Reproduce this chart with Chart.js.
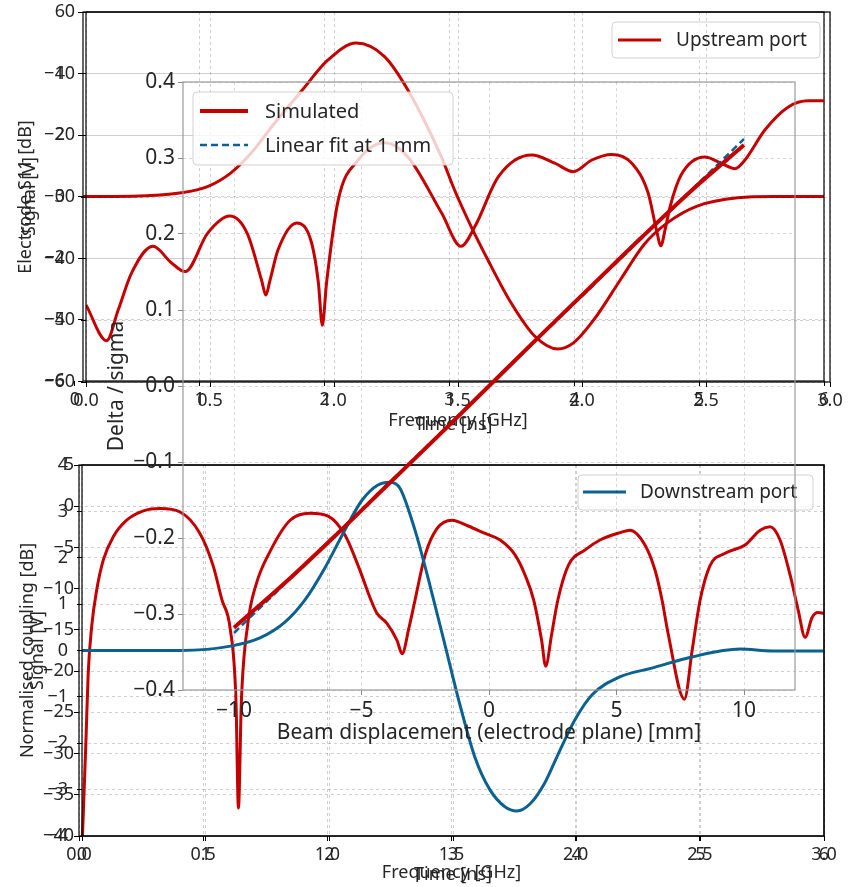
<!DOCTYPE html>
<html>
<head>
<meta charset="utf-8">
<script src="https://cdn.jsdelivr.net/npm/chart.js@4.4.1/dist/chart.umd.min.js"></script>
<style>
  html, body { margin: 0; padding: 0; background: #fff; }
  #wrap { position: relative; width: 851px; height: 887px; overflow: hidden; }
  #wrap canvas { position: absolute; left: 0; top: 0; }
</style>
</head>
<body>
<div id="wrap">
  <canvas id="topSig" width="851" height="887"></canvas>
  <canvas id="topDb" width="851" height="887"></canvas>
  <canvas id="botDb" width="851" height="887"></canvas>
  <canvas id="botSig" width="851" height="887"></canvas>
  <canvas id="inset" width="851" height="887"></canvas>
</div>
<script>
// =====================================
// DATA
// =====================================

// top panel: electrode response vs frequency
const topFreq = [0, 0.083, 0.13, 0.184, 0.27, 0.345, 0.40, 0.49, 0.58, 0.65, 0.708, 0.725, 0.742, 0.774, 0.85, 0.91, 0.937, 0.953, 0.97, 1.017, 1.098, 1.206, 1.298, 1.434, 1.512, 1.568, 1.663, 1.797, 1.89, 1.965, 2.04, 2.12, 2.2, 2.267, 2.30, 2.318, 2.335, 2.355, 2.40, 2.496, 2.56, 2.617, 2.657, 2.738, 2.832, 2.913, 2.977];
const topDbVals = [-47.5, -53.3, -48.3, -42.3, -38.0, -40.7, -42.1, -35.9, -33.1, -35.9, -43.5, -45.9, -43.5, -38.6, -34.2, -37.5, -43.9, -50.8, -43.9, -30.5, -24.0, -21.2, -23.5, -32.6, -38.0, -34.8, -26.7, -23.2, -24.5, -25.9, -24.0, -23.1, -24.5, -29.4, -35.3, -37.9, -35.3, -31.6, -26.4, -23.5, -24.5, -25.4, -24.0, -19.1, -15.4, -14.4, -14.4];

// top panel: upstream port signal vs time
const topTime = [0, 0.459, 0.854, 1.067, 1.250, 1.414, 1.600, 1.813, 2.027, 2.253, 2.480, 2.666, 2.933, 3.040, 3.173, 3.305, 3.492, 3.680, 3.868, 3.996, 4.160, 4.372, 4.559, 4.747, 4.984, 5.310, 5.597, 6.0];
const topSignal = [0, 0.01, 0.12, 0.33, 0.77, 1.42, 2.39, 3.42, 4.44, 4.99, 4.55, 3.47, 1.31, 0.22, -0.97, -2.04, -3.45, -4.53, -4.96, -4.75, -3.99, -2.69, -1.56, -0.85, -0.31, -0.04, 0, 0];

// bottom panel: normalised coupling vs frequency
const botFreq = [0.014, 0.028, 0.037, 0.051, 0.071, 0.098, 0.138, 0.192, 0.259, 0.326, 0.407, 0.487, 0.540, 0.576, 0.608, 0.632, 0.642, 0.654, 0.681, 0.713, 0.769, 0.850, 0.930, 1.003, 1.071, 1.124, 1.176, 1.200, 1.240, 1.281, 1.301, 1.329, 1.353, 1.394, 1.442, 1.502, 1.567, 1.635, 1.696, 1.756, 1.797, 1.831, 1.863, 1.879, 1.904, 1.928, 1.970, 2.038, 2.098, 2.179, 2.219, 2.279, 2.320, 2.348, 2.372, 2.438, 2.469, 2.501, 2.541, 2.602, 2.682, 2.743, 2.783, 2.823, 2.864, 2.896, 2.924, 2.952, 2.976, 3.0];
const botDbVals = [-40, -28.4, -20.3, -14.6, -10.2, -6.5, -3.7, -1.7, -0.57, -0.28, -0.7, -3.3, -7.2, -11.4, -14.7, -23.5, -36.6, -23.5, -14.0, -9.5, -5.5, -1.7, -0.85, -1.2, -3.5, -7.2, -11.4, -13.0, -14.2, -16.3, -17.9, -14.7, -11.4, -5.9, -2.7, -1.7, -2.4, -3.3, -4.1, -5.9, -8.4, -11.4, -16.3, -19.4, -15.4, -11.4, -7.2, -5.3, -4.1, -3.2, -2.9, -4.7, -7.8, -11.4, -15.4, -23.4, -17.5, -11.4, -7.2, -5.7, -4.7, -2.9, -2.5, -4.1, -8.4, -12.6, -15.9, -13.5, -12.9, -13.0];

// bottom panel: downstream port signal vs time
const botTime = [0, 0.8, 1.213, 1.439, 1.641, 1.803, 1.964, 2.126, 2.264, 2.393, 2.49, 2.571, 2.692, 2.813, 2.935, 3.056, 3.177, 3.298, 3.42, 3.517, 3.622, 3.743, 3.848, 3.985, 4.123, 4.349, 4.608, 4.931, 5.323, 5.583, 6.0];
const botSignal = [0, 0, 0.1, 0.27, 0.61, 1.09, 1.78, 2.6, 3.24, 3.57, 3.63, 3.5, 2.6, 1.41, 0.12, -1.17, -2.3, -3.0, -3.37, -3.46, -3.31, -2.85, -2.25, -1.5, -0.96, -0.57, -0.38, -0.14, 0.03, -0.01, -0.01];

// inset: delta / sigma vs beam displacement
const dispMm = [-10, -8, -6, -4, -2, 0, 2, 4, 6, 8, 10];
const simDelta = [-0.318, -0.259, -0.196, -0.131, -0.066, 0, 0.066, 0.131, 0.196, 0.259, 0.317];
const fitMm = [-10, 10];
const fitDelta = [-0.325, 0.325];

// tick labels
const freqTicks = [0, 0.5, 1.0, 1.5, 2.0, 2.5, 3.0];
const timeTicks = [0, 1, 2, 3, 4, 5, 6];
const topDbTicks = [0, -10, -20, -30, -40, -50, -60];
const topSigTicks = [6, 4, 2, 0, -2, -4, -6];
const botDbTicks = [5, 0, -5, -10, -15, -20, -25, -30, -35, -40];
const botSigTicks = [4, 3, 2, 1, 0, -1, -2, -3, -4];
const dispTicks = [-10, -5, 0, 5, 10];
const deltaTicks = [0.4, 0.3, 0.2, 0.1, 0.0, -0.1, -0.2, -0.3, -0.4];

// =====================================
// STYLE HELPERS
// =====================================

const FONT = "'Noto Sans', 'Open Sans', sans-serif";
const RED = '#c40000';
const BLUE = '#0b6190';
const TEXT = '#262626';

const minus = (s) => String(s).replace('-', '\u2212');
const fix1 = (v) => Number(v).toFixed(1);
const int = (v) => String(Math.round(v));

const pts = (xs, ys) => xs.map((x, i) => ({ x, y: ys[i] }));

const axis = (o) => {
	const inRange = (ctx) => ctx.tick && ctx.tick.value >= o.min - 1e-9 && ctx.tick.value <= o.max + 1e-9;
	const gridColor = o.gridColor || 'rgba(0,0,0,0.24)';
	return {
		type: 'linear',
		position: o.position,
		min: o.min,
		max: o.max,
		afterBuildTicks: (s) => {
			s.ticks = o.ticks.map((v) => ({ value: v }));
		},
		afterFit: (s) => {
			if (o.position === 'left') s.width = o.size;
			else s.height = o.size;
			// keep the plot area exactly where the layout padding puts it
			s.paddingTop = 0;
			s.paddingBottom = 0;
			s.paddingLeft = 0;
			s.paddingRight = 0;
		},
		ticks: {
			autoSkip: false,
			maxRotation: 0,
			minRotation: 0,
			padding: o.tickPad ?? 3,
			color: TEXT,
			font: { family: FONT, size: o.tickSize || 18 },
			callback: (v) => minus(o.fmt(v)),
		},
		grid: {
			color: (ctx) => (inRange(ctx) ? gridColor : 'rgba(0,0,0,0)'),
			lineWidth: 0.8,
			drawTicks: true,
			tickLength: 5,
			tickColor: o.tickColor || '#000',
			tickWidth: 1,
		},
		border: { display: false, dash: [3, 3] },
		title: {
			display: true,
			text: o.title,
			color: TEXT,
			font: { family: FONT, size: o.titleSize || 18 },
			padding: o.position === 'left' ? { top: o.titlePad, bottom: 0 } : { top: 0, bottom: o.titlePad },
		},
	};
};

// full box round the plot area
const framePlugin = {
	id: 'frame',
	afterDatasetsDraw(chart, args, o) {
		const a = chart.chartArea;
		const ctx = chart.ctx;
		ctx.save();
		ctx.strokeStyle = o.color || '#000';
		ctx.lineWidth = o.width || 1.2;
		ctx.strokeRect(a.left, a.top, a.right - a.left, a.bottom - a.top);
		ctx.restore();
	},
};

// matplotlib style legend inside the plot
const legendPlugin = {
	id: 'boxLegend',
	afterDatasetsDraw(chart, args, o) {
		if (!o || !o.box) return;
		const ctx = chart.ctx;
		const [bx, by, bw, bh] = o.box;
		ctx.save();
		ctx.beginPath();
		if (ctx.roundRect) ctx.roundRect(bx, by, bw, bh, 4);
		else ctx.rect(bx, by, bw, bh);
		ctx.fillStyle = 'rgba(255,255,255,0.8)';
		ctx.fill();
		ctx.strokeStyle = 'rgba(204,204,204,0.9)';
		ctx.lineWidth = 1;
		ctx.stroke();
		ctx.font = `${o.size}px ${FONT}`;
		ctx.textBaseline = 'middle';
		chart.data.datasets.forEach((ds, i) => {
			const y = o.rowY[i];
			ctx.beginPath();
			ctx.setLineDash(ds.borderDash || []);
			ctx.strokeStyle = ds.borderColor;
			ctx.lineWidth = ds.borderWidth;
			ctx.moveTo(o.lineX[0], y);
			ctx.lineTo(o.lineX[1], y);
			ctx.stroke();
			ctx.setLineDash([]);
			ctx.fillStyle = TEXT;
			ctx.fillText(ds.label, o.textX, y + 1);
		});
		ctx.restore();
	},
};

const line = (label, xs, ys, color, width, dash) => ({
	label,
	data: pts(xs, ys),
	borderColor: color,
	borderWidth: width,
	borderDash: dash || [],
	pointRadius: 0,
	fill: false,
	cubicInterpolationMode: 'monotone',
});

const makeChart = (id, datasets, x, y, padding, frame, legend) =>
	new Chart(document.getElementById(id), {
		type: 'line',
		data: { datasets },
		options: {
			responsive: false,
			animation: false,
			events: [],
			layout: { padding },
			scales: { x, y },
			plugins: {
				legend: { display: false },
				tooltip: { enabled: false },
				frame,
				boxLegend: legend || {},
			},
		},
		plugins: [framePlugin, legendPlugin],
	});

// =====================================
// TOP PANEL
// =====================================

makeChart(
	'topSig',
	[line('Upstream port', topTime, topSignal, RED, 3)],
	axis({ position: 'bottom', min: 0.065, max: 6, ticks: timeTicks, fmt: int, size: 60, title: 'Time [ns]', titlePad: 5 }),
	axis({ position: 'left', min: -6, max: 6, ticks: topSigTicks, fmt: int, size: 83, title: 'Signal [V]', titlePad: 19, tickPad: 13 }),
	{ left: 0, right: 27, top: 12, bottom: 446 },
	{ color: '#000' },
	{ box: [612, 22, 208, 36], lineX: [618, 661], rowY: [40], textX: 676, size: 19 }
);

makeChart(
	'topDb',
	[line('Electrode', topFreq, topDbVals, RED, 3)],
	axis({ position: 'bottom', min: 0, max: 3, ticks: freqTicks, fmt: fix1, size: 60, title: 'Frequency [GHz]', titlePad: 10 }),
	axis({ position: 'left', min: -60, max: 0, ticks: topDbTicks, fmt: int, size: 86, title: 'Electrode S11 [dB]', titlePad: 15, tickPad: 6 }),
	{ left: 0, right: 21, top: 12, bottom: 445 },
	{ color: '#000' }
);

// =====================================
// BOTTOM PANEL
// =====================================

makeChart(
	'botDb',
	[line('Coupling', botFreq, botDbVals, RED, 3)],
	axis({ position: 'bottom', min: 0, max: 3, ticks: freqTicks, fmt: fix1, size: 50, title: 'Frequency [GHz]', titlePad: 2 }),
	axis({ position: 'left', min: -40, max: 5, ticks: botDbTicks, fmt: int, size: 79, title: 'Normalised coupling [dB]', titlePad: 17, tickPad: 0 }),
	{ left: 0, right: 27, top: 465, bottom: 1 },
	{ color: '#000' }
);

makeChart(
	'botSig',
	[line('Downstream port', botTime, botSignal, BLUE, 3)],
	axis({ position: 'bottom', min: 0, max: 6, ticks: timeTicks, fmt: int, size: 50, title: 'Time [ns]', titlePad: 0 }),
	axis({ position: 'left', min: -4, max: 4, ticks: botSigTicks, fmt: int, size: 82, title: 'Signal [V]', titlePad: 27, tickPad: 9 }),
	{ left: 0, right: 27, top: 465, bottom: 1 },
	{ color: '#000' },
	{ box: [578, 475, 235, 35], lineX: [583, 626], rowY: [492], textX: 640, size: 19 }
);

// =====================================
// INSET
// =====================================

makeChart(
	'inset',
	[
		line('Simulated', dispMm, simDelta, RED, 4),
		line('Linear fit at 1 mm', fitMm, fitDelta, BLUE, 2.5, [7, 4]),
	],
	axis({ position: 'bottom', min: -12, max: 12, ticks: dispTicks, fmt: int, size: 60, tickSize: 21, titleSize: 21, title: 'Beam displacement (electrode plane) [mm]', titlePad: 4, tickColor: '#888', gridColor: 'rgba(0,0,0,0.2)' }),
	axis({ position: 'left', min: -0.4, max: 0.4, ticks: deltaTicks, fmt: fix1, size: 83, tickSize: 21, titleSize: 21, title: 'Delta / sigma', titlePad: 4, tickColor: '#888', gridColor: 'rgba(0,0,0,0.2)' }),
	{ left: 100, right: 56, top: 82, bottom: 137 },
	{ color: '#999', width: 1.2 },
	{ box: [193, 92, 260, 73], lineX: [200, 248], rowY: [111, 145], textX: 265, size: 20 }
);
</script>
</body>
</html>
